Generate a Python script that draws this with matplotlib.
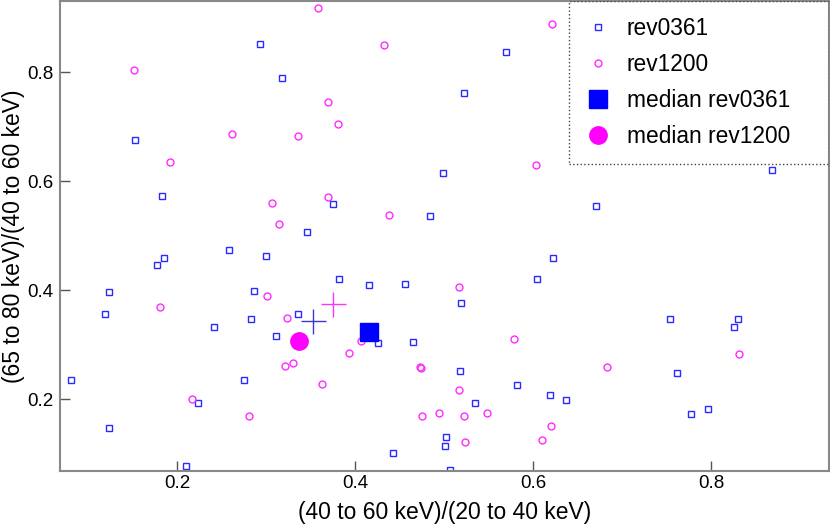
import matplotlib
matplotlib.use('Agg')
import matplotlib.pyplot as plt
from matplotlib.patches import Rectangle

plt.rcParams['font.family'] = ['Liberation Sans', 'DejaVu Sans']

# rev0361 ratios (x = 40-60 / 20-40, y = 65-80 / 40-60)
x361 = [0.293, 0.318, 0.153, 0.1835, 0.2588, 0.5697, 0.522, 0.4985, 0.375,
        0.4839, 0.3461, 0.8689, 0.6704, 0.124, 0.1195, 0.0813, 0.1233,
        0.1772, 0.1854, 0.2999, 0.2862, 0.2831, 0.2419, 0.3356, 0.3116,
        0.2753, 0.224, 0.2105, 0.382, 0.4154, 0.4558, 0.5194, 0.6225, 0.604,
        0.4255, 0.4655, 0.5176, 0.582, 0.619, 0.637, 0.5348, 0.5022, 0.5015,
        0.443, 0.5067, 0.7536, 0.8303, 0.8262, 0.7615, 0.7775, 0.7963]
y361 = [0.8525, 0.790, 0.676, 0.573, 0.473, 0.838, 0.762, 0.6145, 0.558,
        0.5367, 0.5067, 0.620, 0.5545, 0.397, 0.357, 0.2343, 0.1473,
        0.4455, 0.459, 0.463, 0.398, 0.3464, 0.332, 0.356, 0.315,
        0.2355, 0.192, 0.0775, 0.420, 0.410, 0.412, 0.377, 0.4584, 0.421,
        0.3023, 0.304, 0.2514, 0.225, 0.208, 0.1987, 0.192, 0.1308, 0.113,
        0.1008, 0.0696, 0.3475, 0.3464, 0.3317, 0.2478, 0.1719, 0.1816]

# rev1200 ratios
x1200 = [0.1513, 0.2615, 0.3356, 0.192, 0.3067, 0.3143, 0.3588, 0.4326,
         0.370, 0.3812, 0.6217, 0.6037, 0.370, 0.4379, 0.1809, 0.3015,
         0.3236, 0.321, 0.330, 0.2165, 0.2812, 0.5165, 0.4064, 0.3936,
         0.5787, 0.473, 0.474, 0.3633, 0.5172, 0.4753, 0.4947, 0.5228,
         0.5487, 0.6206, 0.610, 0.5239, 0.8318, 0.6835]
y1200 = [0.804, 0.686, 0.683, 0.635, 0.5605, 0.521, 0.918, 0.8496,
         0.746, 0.705, 0.889, 0.630, 0.5716, 0.538, 0.370, 0.3886,
         0.348, 0.260, 0.266, 0.201, 0.168, 0.405, 0.306, 0.284,
         0.3108, 0.258, 0.257, 0.2275, 0.216, 0.1688, 0.1737, 0.1688,
         0.1749, 0.151, 0.1247, 0.121, 0.282, 0.2593]

# medians and crosses
med361 = (0.4154, 0.3237)
med1200 = (0.337, 0.3065)
cross361 = (0.3531, 0.343)
cross1200 = (0.3756, 0.374)

fig = plt.figure(figsize=(8.3, 5.26), dpi=100)
ax = fig.add_axes([0.0723, 0.105, 0.926, 0.893])

ax.plot(x361, y361, 's', ls='none', mfc='none', mec='#2a2aff', mew=1.0,
        ms=5, label='rev0361')
ax.plot(x1200, y1200, 'o', ls='none', mfc='none', mec='#ff2aff', mew=1.0,
        ms=5, label='rev1200')
ax.plot(*med361, 's', color='blue', ms=12.5, label='median rev0361')
ax.plot(*med1200, 'o', color='magenta', ms=12.5, label='median rev1200')
ax.plot(*cross361, '+', color='#3a3ad0', ms=18, mew=1.0)
ax.plot(*cross1200, '+', color='#ff33ff', ms=18, mew=1.0)

ax.set_xlim(0.0685, 0.932)
ax.set_ylim(0.0683, 0.931)
ax.set_xticks([0.2, 0.4, 0.6, 0.8])
ax.set_yticks([0.2, 0.4, 0.6, 0.8])
ax.tick_params(direction='in', length=7, width=1, color='#555555',
               labelsize=13.5)
ax.tick_params(axis='x', pad=2.7)
ax.tick_params(axis='y', pad=5)
for s in ax.spines.values():
    s.set_color('#888888')
    s.set_linewidth(1.5)

ax.set_xlabel('(40 to 60 keV)/(20 to 40 keV)', fontsize=16.5)
ax.set_ylabel('(65 to 80 keV)/(40 to 60 keV)', fontsize=16.5)
ax.xaxis.set_label_coords(0.5, -0.064)
ax.yaxis.set_label_coords(-0.045, 0.5)

# legend without frame, dotted box drawn around it
leg = ax.legend(loc='upper left', bbox_to_anchor=(0.662, 1.0),
                borderaxespad=0, fontsize=16.4, frameon=False,
                handletextpad=0.69, borderpad=0.69, labelspacing=0.57,
                handlelength=1.17)
ax.add_patch(Rectangle((0.662, 0.653), 0.338, 0.347, transform=ax.transAxes,
                       fill=False, ls=':', lw=1.0, ec='#444444', zorder=5))

plt.savefig('out.png', dpi=100)
